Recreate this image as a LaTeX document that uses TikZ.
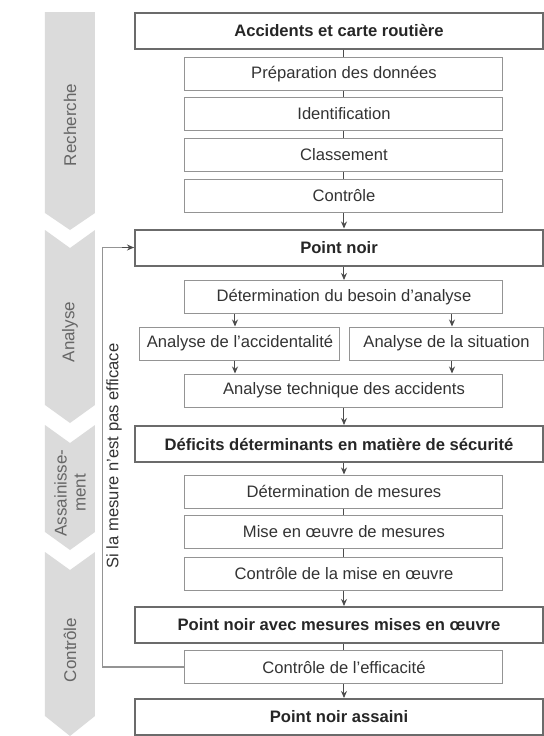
\documentclass[tikz,border=0pt]{standalone}
\usepackage{fontspec}
\setmainfont{Liberation Sans}
\usetikzlibrary{arrows.meta,calc}
\definecolor{bandgray}{rgb}{0.86,0.86,0.86}
\definecolor{boxline}{rgb}{0.58,0.58,0.58}
\definecolor{boldline}{rgb}{0.42,0.42,0.42}
\definecolor{bandtext}{rgb}{0.40,0.40,0.40}
\tikzstyle{mainbox}=[draw=boldline,line width=1pt,minimum width=204pt,minimum height=18pt,inner sep=0pt,font=\fontsize{8.3}{10}\selectfont\bfseries,text=black!85]
\tikzstyle{subbox}=[draw=boxline,line width=0.5pt,minimum width=159pt,minimum height=16.5pt,inner sep=0pt,font=\fontsize{8.3}{10}\selectfont,text=black!80]
\tikzstyle{band}=[fill=bandgray,draw=none]
\tikzstyle{bandlabel}=[rotate=90,text=bandtext,font=\fontsize{8.5}{9.5}\selectfont,align=center]
\tikzstyle{flow}=[draw=black!70,line width=0.5pt]
\tikzstyle{flowarrow}=[flow,-{Stealth[length=3.5pt,width=3pt]}]
\tikzstyle{feedback}=[draw=boxline,line width=0.6pt]

\begin{document}
\begin{tikzpicture}[x=0.5pt,y=-0.5pt]
  \useasboundingbox (0,0) rectangle (544,736);

  % PHASE BAND
  \path[band] (45,12) -- (95,12) -- (95,213) -- (70,230) -- (45,213) -- cycle;
  \path[band] (45,230) -- (70,248) -- (95,230) -- (95,405) -- (70,423) -- (45,405) -- cycle;
  \path[band] (45,425) -- (70,443) -- (95,425) -- (95,532) -- (70,550) -- (45,532) -- cycle;
  \path[band] (45,552) -- (70,570) -- (95,552) -- (95,716) -- (70,736) -- (45,716) -- cycle;
  \node[bandlabel] (phrech) at (70,125) {Recherche};
  \node[bandlabel] (phana) at (70,332) {Analyse};
  \node[bandlabel] (phass) at (70,493) {Assainisse-\\ment};
  \node[bandlabel] (phctrl) at (70,650) {Contrôle};

  % STEPS
  \node[mainbox] (acc) at (339,30.5) {Accidents et carte routière};
  \node[subbox] (prep) at (344,74) {Préparation des données};
  \node[subbox] (ident) at (344,114) {Identification};
  \node[subbox] (class) at (344,155) {Classement};
  \node[subbox] (ctrl) at (344,196) {Contrôle};
  \node[mainbox] (pn) at (339,247.5) {Point noir};
  \node[subbox] (det) at (344,297) {Détermination du besoin d'analyse};
  \node[subbox,minimum width=100pt] (aacc) at (240,343.5) {Analyse de l'accidentalité};
  \node[subbox,minimum width=97pt] (asit) at (446.5,343.5) {Analyse de la situation};
  \node[subbox] (atech) at (344,390.5) {Analyse technique des accidents};
  \node[mainbox] (def) at (339,444) {Déficits déterminants en matière de sécurité};
  \node[subbox] (detm) at (344,491.5) {Détermination de mesures};
  \node[subbox] (mise) at (344,531.5) {Mise en œuvre de mesures};
  \node[subbox] (ctrlm) at (344,573.5) {Contrôle de la mise en œuvre};
  \node[mainbox] (pnm) at (339,625) {Point noir avec mesures mises en œuvre};
  \node[subbox] (eff) at (344,667) {Contrôle de l'efficacité};
  \node[mainbox] (pna) at (339,717) {Point noir assaini};

  % CONNECTORS
  \coordinate (axis) at (344,0);
  \foreach \a/\b in {acc/prep,prep/ident,ident/class,class/ctrl,detm/mise,mise/ctrlm,pnm/eff}
    \draw[flow] (\a.south -| axis) -- (\b.north -| axis);
  \foreach \a/\b in {ctrl/pn,pn/det,atech/def,def/detm,ctrlm/pnm,eff/pna}
    \draw[flowarrow] (\a.south -| axis) -- (\b.north -| axis);
  \coordinate (left) at (235,0);
  \coordinate (right) at (452,0);
  \draw[flowarrow] (det.south -| left) -- (aacc.north -| left);
  \draw[flowarrow] (det.south -| right) -- (asit.north -| right);
  \draw[flowarrow] (aacc.south -| left) -- (atech.north -| left);
  \draw[flowarrow] (asit.south -| right) -- (atech.north -| right);

  % FEEDBACK LOOP
  \draw[feedback] (eff.west) -- ++(-82,0) coordinate (fbcorner) |- (pn.west);
  \draw[flowarrow] ($(pn.west)+(-12,0)$) -- (pn.west);
  \node[rotate=90,font=\fontsize{8.3}{10}\selectfont,text=black!80] (fblabel) at (114,456) {Si la mesure n'est pas efficace};

\end{tikzpicture}
\end{document}
